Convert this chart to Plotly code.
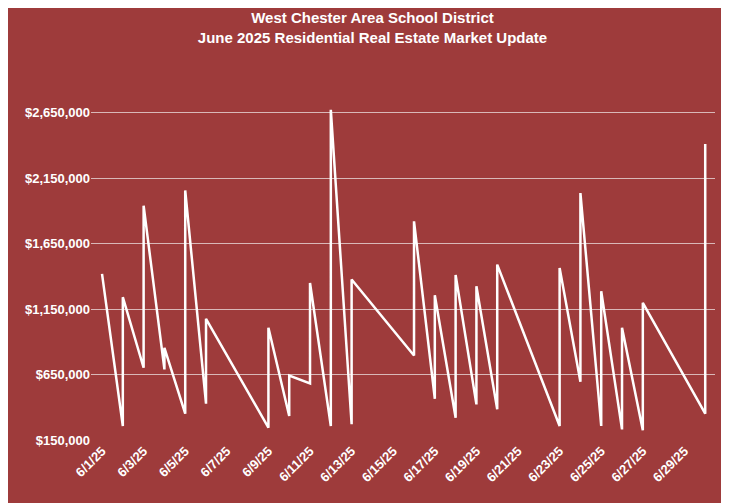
import plotly.graph_objects as go

# ---------------------------
# datos (fecha, precio) en orden de la serie
# ---------------------------
fechas = [
    "2025-06-01",
    "2025-06-02", "2025-06-02",
    "2025-06-03", "2025-06-03",
    "2025-06-04", "2025-06-04",
    "2025-06-05", "2025-06-05",
    "2025-06-06", "2025-06-06",
    "2025-06-09", "2025-06-09",
    "2025-06-10", "2025-06-10",
    "2025-06-11", "2025-06-11",
    "2025-06-12", "2025-06-12",
    "2025-06-13", "2025-06-13",
    "2025-06-16", "2025-06-16",
    "2025-06-17", "2025-06-17",
    "2025-06-18", "2025-06-18",
    "2025-06-19", "2025-06-19",
    "2025-06-20", "2025-06-20",
    "2025-06-23", "2025-06-23",
    "2025-06-24", "2025-06-24",
    "2025-06-25", "2025-06-25",
    "2025-06-26", "2025-06-26",
    "2025-06-27", "2025-06-27",
    "2025-06-30", "2025-06-30",
]
precios = [
    1419000,
    257000, 1241000,
    702000, 1940000,
    689000, 854000,
    351000, 2057000,
    427000, 1076000,
    244000, 1007000,
    333000, 643000,
    582000, 1350000,
    257000, 2673000,
    270000, 1376000,
    796000, 1821000,
    465000, 1256000,
    320000, 1411000,
    422000, 1325000,
    384000, 1490000,
    257000, 1465000,
    595000, 2037000,
    257000, 1287000,
    231000, 1007000,
    224000, 1198000,
    351000, 2411000,
]
y_ticks = [150000, 650000, 1150000, 1650000, 2150000, 2650000]

fondo = "#9E3B3B"
fuente = "Liberation Sans Narrow, Arial Narrow, sans-serif"

fig = go.Figure()
fig.add_trace(go.Scatter(
    x=fechas, y=precios, mode="lines",
    line=dict(color="white", width=2.5),
    showlegend=False,
))

fig.update_layout(
    width=729, height=503,
    paper_bgcolor=fondo, plot_bgcolor=fondo,
    margin=dict(l=83, r=22, t=93, b=71),
    title=dict(
        text="<b>West Chester Area School District<br>June 2025 Residential Real Estate Market Update</b>",
        x=0.5, xanchor="center", y=0.97, yanchor="top",
        font=dict(family=fuente, size=15, color="white"),
    ),
    font=dict(family=fuente, color="white"),
    xaxis=dict(
        type="date",
        range=["2025-05-31 11:17", "2025-06-30 11:17"],
        tickvals=["2025-06-%02d" % d for d in range(1, 30, 2)],
        ticktext=["<b>6/%d/25</b>" % d for d in range(1, 30, 2)],
        tickangle=-45,
        showgrid=False, zeroline=False,
        tickfont=dict(size=13, color="white"),
    ),
    yaxis=dict(
        range=[150000, 2740000],
        tickvals=y_ticks,
        ticktext=["<b>$%s</b>" % format(v, ",") for v in y_ticks],
        gridcolor="#D9B8B8", gridwidth=1,
        zeroline=False,
        tickfont=dict(size=13, color="white"),
    ),
)

fig.write_html("out.html")
